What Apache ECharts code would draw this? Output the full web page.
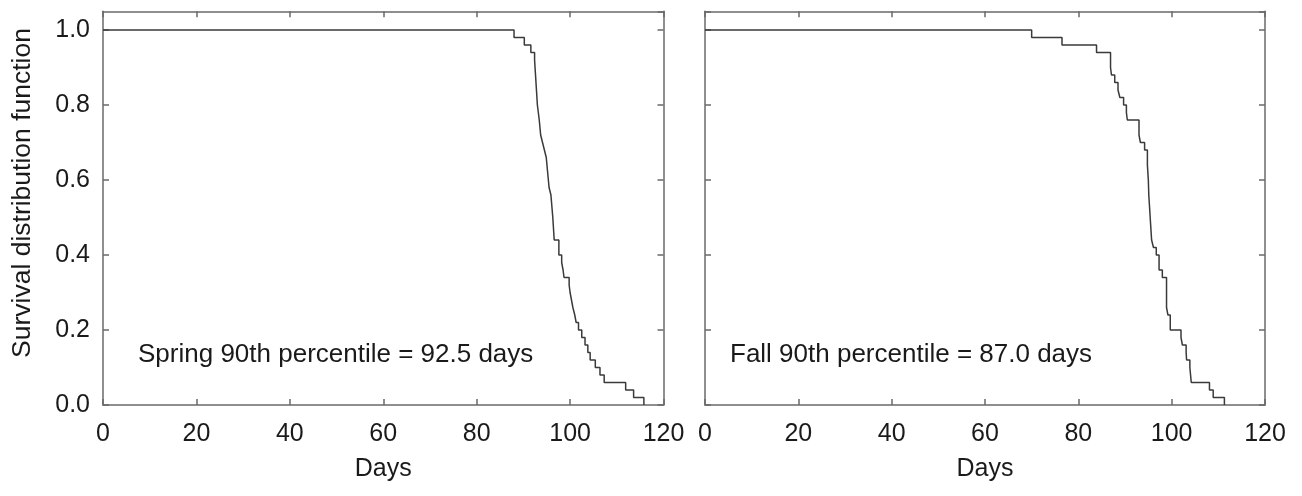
<!DOCTYPE html>
<html>
<head>
<meta charset="utf-8">
<script src="https://cdn.jsdelivr.net/npm/echarts@6/dist/echarts.min.js"></script>
<style>
html,body{margin:0;padding:0;background:#fff;}
#chart{width:1302px;height:496px;}
</style>
</head>
<body>
<div id="chart"></div>
<script>
// ---- data ----
const springDays = [0, 88.0, 90.2, 91.6, 92.4, 92.6, 92.8, 93.0, 93.2, 93.4, 93.7, 94.1, 94.5, 94.9, 95.2, 95.5, 95.9, 96.3, 96.6, 97.6, 98.2, 98.5, 98.7, 99.8, 100.0, 100.3, 100.6, 101.0, 101.3, 101.8, 102.5, 103.2, 103.8, 104.3, 105.4, 106.4, 107.3, 111.9, 113.6, 115.8];
const springSurv = [1.0, 0.98, 0.96, 0.94, 0.92, 0.88, 0.84, 0.80, 0.78, 0.76, 0.72, 0.70, 0.68, 0.66, 0.62, 0.58, 0.56, 0.50, 0.44, 0.40, 0.38, 0.36, 0.34, 0.32, 0.30, 0.28, 0.26, 0.24, 0.22, 0.20, 0.18, 0.16, 0.14, 0.12, 0.10, 0.08, 0.06, 0.04, 0.02, 0.0];
const fallDays = [0, 70.0, 76.5, 83.9, 86.9, 87.1, 87.8, 88.5, 88.9, 89.7, 90.3, 90.5, 93.0, 93.3, 94.2, 94.8, 95.0, 95.1, 95.2, 95.5, 95.7, 96.1, 96.7, 97.3, 98.0, 98.9, 99.2, 99.7, 102.0, 102.3, 103.1, 103.2, 103.9, 104.2, 108.1, 108.9, 111.3];
const fallSurv = [1.0, 0.98, 0.96, 0.94, 0.90, 0.88, 0.86, 0.84, 0.82, 0.80, 0.78, 0.76, 0.72, 0.70, 0.68, 0.64, 0.60, 0.56, 0.54, 0.48, 0.44, 0.42, 0.40, 0.36, 0.34, 0.26, 0.24, 0.20, 0.18, 0.16, 0.14, 0.12, 0.10, 0.06, 0.04, 0.02, 0.0];
const xTicks = {min: 0, max: 120, interval: 20};
const yTicks = {min: 0, max: 1.05, interval: 0.2};
const springLabel = 'Spring 90th percentile = 92.5 days';
const fallLabel = 'Fall 90th percentile = 87.0 days';
const xTitle = 'Days';
const yTitle = 'Survival distribution function';

// ---- styling ----
const FONT = '"Liberation Sans", Arial, sans-serif';
const TXT = '#1a1a1a';
const BOX = '#6a6a6a';
const CURVE = '#3a3a3a';

function pairs(xs, ys) { return xs.map((x, i) => [x, ys[i]]); }

function xAxisPair(gi) {
  const base = {
    type: 'value', gridIndex: gi, min: xTicks.min, max: xTicks.max, interval: xTicks.interval,
    splitLine: {show: false},
    axisLine: {show: true, onZero: false, lineStyle: {color: BOX, width: 1.5}},
    axisTick: {show: true, inside: true, length: 6, lineStyle: {color: BOX, width: 1.5}}
  };
  return [
    Object.assign({}, base, {
      position: 'bottom',
      axisLabel: {show: true, margin: 17, fontSize: 25, color: TXT, fontFamily: FONT},
      name: xTitle, nameLocation: 'middle', nameGap: 52,
      nameTextStyle: {fontSize: 25, color: TXT, fontFamily: FONT}
    }),
    Object.assign({}, base, {position: 'top', axisLabel: {show: false}})
  ];
}
function yAxisPair(gi, withLabels) {
  const base = {
    type: 'value', gridIndex: gi, min: yTicks.min, max: yTicks.max, interval: yTicks.interval,
    splitLine: {show: false},
    axisLine: {show: true, onZero: false, lineStyle: {color: BOX, width: 1.5}},
    axisTick: {show: true, inside: true, length: 6, lineStyle: {color: BOX, width: 1.5}}
  };
  const left = Object.assign({}, base, {
    position: 'left',
    axisLabel: {show: withLabels, showMaxLabel: false, margin: 13, fontSize: 25, color: TXT, fontFamily: FONT,
      formatter: v => v.toFixed(1)}
  });
  return [left, Object.assign({}, base, {position: 'right', axisLabel: {show: false}})];
}

const chart = echarts.init(document.getElementById('chart'), null, {renderer: 'canvas'});
const xa0 = xAxisPair(0), xa1 = xAxisPair(1);
const ya0 = yAxisPair(0, true), ya1 = yAxisPair(1, false);

chart.setOption({
  animation: false,
  backgroundColor: '#fff',
  textStyle: {fontFamily: FONT},
  grid: [
    {left: 103, right: 638.5, top: 11.25, bottom: 91},
    {left: 705, right: 37, top: 11.25, bottom: 91}
  ],
  xAxis: [xa0[0], xa0[1], xa1[0], xa1[1]],
  yAxis: [ya0[0], ya0[1], ya1[0], ya1[1]],
  series: [
    {type: 'line', xAxisIndex: 0, yAxisIndex: 0, step: 'end', symbol: 'none',
     lineStyle: {color: CURVE, width: 1.5}, data: pairs(springDays, springSurv)},
    {type: 'line', xAxisIndex: 2, yAxisIndex: 2, step: 'end', symbol: 'none',
     lineStyle: {color: CURVE, width: 1.5}, data: pairs(fallDays, fallSurv)}
  ],
  graphic: [
    {type: 'text', left: 138, top: 342, style: {text: springLabel, fontSize: 26, fill: TXT, fontFamily: FONT}},
    {type: 'text', left: 730, top: 342, style: {text: fallLabel, fontSize: 26, fill: TXT, fontFamily: FONT}},
    {type: 'text', x: 23, y: 193, rotation: Math.PI / 2,
     style: {text: yTitle, fontSize: 26.5, fill: TXT, fontFamily: FONT, textAlign: 'center', textVerticalAlign: 'middle'}}
  ]
});
</script>
</body>
</html>
